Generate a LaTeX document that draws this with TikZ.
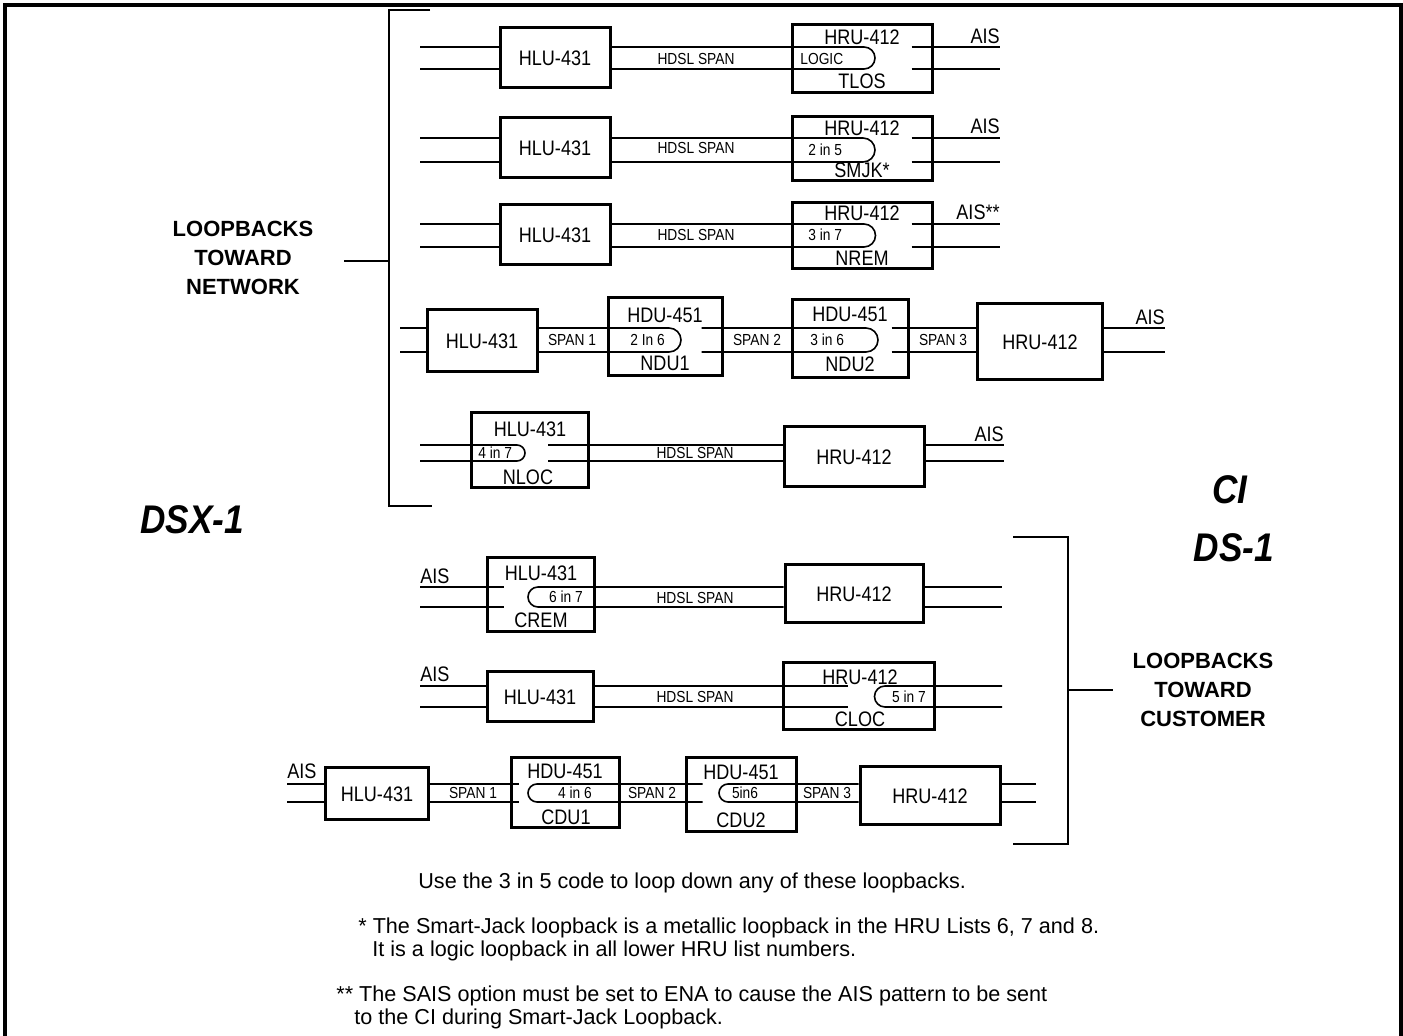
\documentclass[tikz,border=0pt]{standalone}
\usepackage{fontspec}
\setmainfont{Liberation Sans}
\newfontfamily\unitfont[FakeStretch=0.86]{Liberation Sans}
\newfontfamily\sidefont[FakeStretch=0.88]{Liberation Sans}

\begin{document}
\begin{tikzpicture}[x=0.5pt,y=-0.5pt,
  every node/.style={inner sep=0pt},
  unit/.style={draw,line width=1.5pt,font=\unitfont\fontsize{10.5}{12}\selectfont},
  tag/.style={font=\unitfont\fontsize{10.5}{12}\selectfont},
  small/.style={font=\unitfont\fontsize{8}{9}\selectfont},
  wire/.style={line width=0.8pt},
  note/.style={anchor=west,font=\fontsize{10.8}{12}\selectfont},
  group/.style={align=center,font=\bfseries\fontsize{11}{14.5}\selectfont},
  side/.style={font=\sidefont\bfseries\itshape\fontsize{20}{22}\selectfont}]
\useasboundingbox (0,0) rectangle (1403,1036);
\draw[line width=2pt] (5,1040) -- (5,5) -- (1401,5) -- (1401,1040);
\node[side] (dsx) at (192,520) {DSX-1};
\node[side] (ci) at (1230,490) {CI};
\node[side] (ds) at (1234,548) {DS-1};
\node[group] (lbn) at (243,258) {LOOPBACKS\\TOWARD\\NETWORK};
\node[group] (lbc) at (1203,690) {LOOPBACKS\\TOWARD\\CUSTOMER};
\coordinate (bn) at (389,261);
\coordinate (bc) at (1068,690);
\draw[wire] (430,10) -- (389,10) -- (389,506) -- (432,506);
\draw[wire] (344,261) -- (bn);
\draw[wire] (1013,537) -- (1068,537) -- (1068,844) -- (1013,844);
\draw[wire] (bc) -- (1113,690);
\coordinate (u1) at (420,47); \coordinate (l1) at (420,69);
\coordinate (v1) at (1000,47); \coordinate (w1) at (1000,69);
\node[unit,minimum width=55pt,minimum height=30pt] (h1) at (555,58) {HLU-431};
\node[unit,minimum width=70pt,minimum height=34pt] (r1) at (862,59) {};
\node[tag] (r1a) at (862,37) {HRU-412};
\node[small,anchor=west] (r1b) at (800,59) {LOGIC};
\node[tag] (r1c) at (862,81) {TLOS};
\node[small] (s1) at (696,59) {HDSL SPAN};
\node[tag,anchor=south east] (a1) at (1000,44) {AIS};
\draw[wire] (u1) -- (h1.west |- u1) (l1) -- (h1.west |- l1);
\draw[wire] (h1.east |- u1) -- (864,47) arc[start angle=-90,end angle=90,radius=11] -- (h1.east |- l1);
\draw[wire] ([xshift=-11pt]r1.east |- v1) -- (v1) ([xshift=-11pt]r1.east |- w1) -- (w1);
\coordinate (u2) at (420,138); \coordinate (l2) at (420,162);
\coordinate (v2) at (1000,138); \coordinate (w2) at (1000,162);
\node[unit,minimum width=55pt,minimum height=30pt] (h2) at (555,148) {HLU-431};
\node[unit,minimum width=70pt,minimum height=32pt] (r2) at (862,149) {};
\node[tag] (r2a) at (862,128) {HRU-412};
\node[small,anchor=west] (r2b) at (808,150) {2 in 5};
\node[tag] (r2c) at (862,170) {SMJK*};
\node[small] (s2) at (696,148) {HDSL SPAN};
\node[tag,anchor=south east] (a2) at (1000,134) {AIS};
\draw[wire] (u2) -- (h2.west |- u2) (l2) -- (h2.west |- l2);
\draw[wire] (h2.east |- u2) -- (863,138) arc[start angle=-90,end angle=90,radius=12] -- (h2.east |- l2);
\draw[wire] ([xshift=-11pt]r2.east |- v2) -- (v2) ([xshift=-11pt]r2.east |- w2) -- (w2);
\coordinate (u3) at (420,224); \coordinate (l3) at (420,247);
\coordinate (v3) at (1000,224); \coordinate (w3) at (1000,247);
\node[unit,minimum width=55pt,minimum height=30pt] (h3) at (555,235) {HLU-431};
\node[unit,minimum width=70pt,minimum height=33pt] (r3) at (862,236) {};
\node[tag] (r3a) at (862,213) {HRU-412};
\node[small,anchor=west] (r3b) at (808,235) {3 in 7};
\node[tag] (r3c) at (862,258) {NREM};
\node[small] (s3) at (696,235) {HDSL SPAN};
\node[tag,anchor=south east] (a3) at (1000,220) {AIS**};
\draw[wire] (u3) -- (h3.west |- u3) (l3) -- (h3.west |- l3);
\draw[wire] (h3.east |- u3) -- (864,224) arc[start angle=-90,end angle=90,radius=11.5] -- (h3.east |- l3);
\draw[wire] ([xshift=-11pt]r3.east |- v3) -- (v3) ([xshift=-11pt]r3.east |- w3) -- (w3);
\coordinate (u4) at (400,328); \coordinate (l4) at (400,352);
\coordinate (v4) at (1165,328); \coordinate (w4) at (1165,352);
\node[unit,minimum width=55pt,minimum height=31pt] (h4) at (482,341) {HLU-431};
\node[unit,minimum width=57pt,minimum height=39pt] (d1) at (665,337) {};
\node[tag] (d1a) at (665,315) {HDU-451};
\node[small,anchor=west] (d1b) at (630,340) {2 In 6};
\node[tag] (d1c) at (665,363) {NDU1};
\node[unit,minimum width=58pt,minimum height=39pt] (d2) at (850,339) {};
\node[tag] (d2a) at (850,314) {HDU-451};
\node[small,anchor=west] (d2b) at (810,340) {3 in 6};
\node[tag] (d2c) at (850,364) {NDU2};
\node[unit,minimum width=62.5pt,minimum height=38pt] (r4) at (1040,342) {HRU-412};
\node[small] (s4a) at (572,340) {SPAN 1};
\node[small] (s4b) at (757,340) {SPAN 2};
\node[small] (s4c) at (943,340) {SPAN 3};
\node[tag,anchor=south east] (a4) at (1165,325) {AIS};
\draw[wire] (u4) -- (h4.west |- u4) (l4) -- (h4.west |- l4);
\draw[wire] (h4.east |- u4) -- (669,328) arc[start angle=-90,end angle=90,radius=12] -- (h4.east |- l4);
\draw[wire] ([xshift=-11pt]d1.east |- u4) -- (866,328) arc[start angle=-90,end angle=90,radius=12] -- ([xshift=-11pt]d1.east |- l4);
\draw[wire] ([xshift=-9pt]d2.east |- u4) -- (r4.west |- u4) ([xshift=-9pt]d2.east |- l4) -- (r4.west |- l4);
\draw[wire] (r4.east |- v4) -- (v4) (r4.east |- w4) -- (w4);
\coordinate (u5) at (420,445); \coordinate (l5) at (420,461);
\coordinate (v5) at (1004,445); \coordinate (w5) at (1004,461);
\node[unit,minimum width=58.5pt,minimum height=37.5pt] (h5) at (530,450) {};
\node[tag] (h5a) at (530,429) {HLU-431};
\node[small,anchor=west] (h5b) at (478,453) {4 in 7};
\node[tag] (h5c) at (528,477) {NLOC};
\node[unit,minimum width=70pt,minimum height=30pt] (r5) at (854,457) {HRU-412};
\node[small] (s5) at (695,453) {HDSL SPAN};
\node[tag,anchor=south east] (a5) at (1004,442) {AIS};
\draw[wire] (u5) -- (517,445) arc[start angle=-90,end angle=90,radius=8] -- (l5);
\draw[wire] ([xshift=-21pt]h5.east |- u5) -- (r5.west |- u5) ([xshift=-21pt]h5.east |- l5) -- (r5.west |- l5);
\draw[wire] (r5.east |- v5) -- (v5) (r5.east |- w5) -- (w5);
\coordinate (u6) at (420,587); \coordinate (l6) at (420,607);
\coordinate (v6) at (1002,587); \coordinate (w6) at (1002,607);
\node[unit,minimum width=53.5pt,minimum height=37pt] (h6) at (541,595) {};
\node[tag] (h6a) at (541,573) {HLU-431};
\node[small] (h6b) at (566,597) {6 in 7};
\node[tag] (h6c) at (541,620) {CREM};
\node[unit,minimum width=69pt,minimum height=29pt] (r6) at (854,594) {HRU-412};
\node[small] (s6) at (695,598) {HDSL SPAN};
\node[tag,anchor=south west] (a6) at (420,584) {AIS};
\draw[wire] (u6) -- ([xshift=9pt]h6.west |- u6) (l6) -- ([xshift=9pt]h6.west |- l6);
\draw[wire] (r6.west |- u6) -- (538,587) arc[start angle=-90,end angle=-270,radius=10] -- (r6.west |- l6);
\draw[wire] (r6.east |- v6) -- (v6) (r6.east |- w6) -- (w6);
\coordinate (u7) at (420,686); \coordinate (l7) at (420,707);
\coordinate (v7) at (1002,686); \coordinate (w7) at (1002,707);
\node[unit,minimum width=53pt,minimum height=25pt] (h7) at (540,697) {HLU-431};
\node[unit,minimum width=75.5pt,minimum height=33.5pt] (r7) at (859,696) {};
\node[tag] (r7a) at (860,677) {HRU-412};
\node[small] (r7b) at (909,697) {5 in 7};
\node[tag] (r7c) at (860,719) {CLOC};
\node[small] (s7) at (695,697) {HDSL SPAN};
\node[tag,anchor=south west] (a7) at (420,682) {AIS};
\draw[wire] (u7) -- (h7.west |- u7) (l7) -- (h7.west |- l7);
\draw[wire] (h7.east |- u7) -- ([xshift=33pt]r7.west |- u7) (h7.east |- l7) -- ([xshift=33pt]r7.west |- l7);
\draw[wire] (v7) -- (885,686) arc[start angle=-90,end angle=-270,radius=10.5] -- (w7);
\coordinate (u8) at (287,784); \coordinate (l8) at (287,802);
\coordinate (v8) at (1036,784); \coordinate (w8) at (1036,802);
\node[unit,minimum width=51.5pt,minimum height=26pt] (h8) at (377,794) {HLU-431};
\node[unit,minimum width=54pt,minimum height=35pt] (d3) at (565,793) {};
\node[tag] (d3a) at (565,771) {HDU-451};
\node[small] (d3b) at (575,793) {4 in 6};
\node[tag] (d3c) at (566,817) {CDU1};
\node[unit,minimum width=55pt,minimum height=37pt] (d4) at (741,795) {};
\node[tag] (d4a) at (741,772) {HDU-451};
\node[small] (d4b) at (745,793) {5in6};
\node[tag] (d4c) at (741,820) {CDU2};
\node[unit,minimum width=70pt,minimum height=29pt] (r8) at (930,796) {HRU-412};
\node[small] (s8a) at (473,793) {SPAN 1};
\node[small] (s8b) at (652,793) {SPAN 2};
\node[small] (s8c) at (827,793) {SPAN 3};
\node[tag,anchor=south west] (a8) at (287,779) {AIS};
\draw[wire] (u8) -- (h8.west |- u8) (l8) -- (h8.west |- l8);
\draw[wire] (h8.east |- u8) -- ([xshift=4.5pt]d3.west |- u8) (h8.east |- l8) -- ([xshift=4.5pt]d3.west |- l8);
\draw[wire] ([xshift=9pt]d4.west |- u8) -- (537,784) arc[start angle=-90,end angle=-270,radius=9] -- ([xshift=9pt]d4.west |- l8);
\draw[wire] (r8.west |- u8) -- (728,784) arc[start angle=-90,end angle=-270,radius=9] -- (r8.west |- l8);
\draw[wire] (r8.east |- v8) -- (v8) (r8.east |- w8) -- (w8);
\node[note] (f1) at (418,883) {Use the 3 in 5 code to loop down any of these loopbacks.};
\node[note] (f2) at (358,928) {* The Smart-Jack loopback is a metallic loopback in the HRU Lists 6, 7 and 8.};
\node[note] (f3) at (372,951) {It is a logic loopback in all lower HRU list numbers.};
\node[note] (f4) at (336,996) {** The SAIS option must be set to ENA to cause the AIS pattern to be sent};
\node[note] (f5) at (354,1019) {to the CI during Smart-Jack Loopback.};
\end{tikzpicture}
\end{document}
